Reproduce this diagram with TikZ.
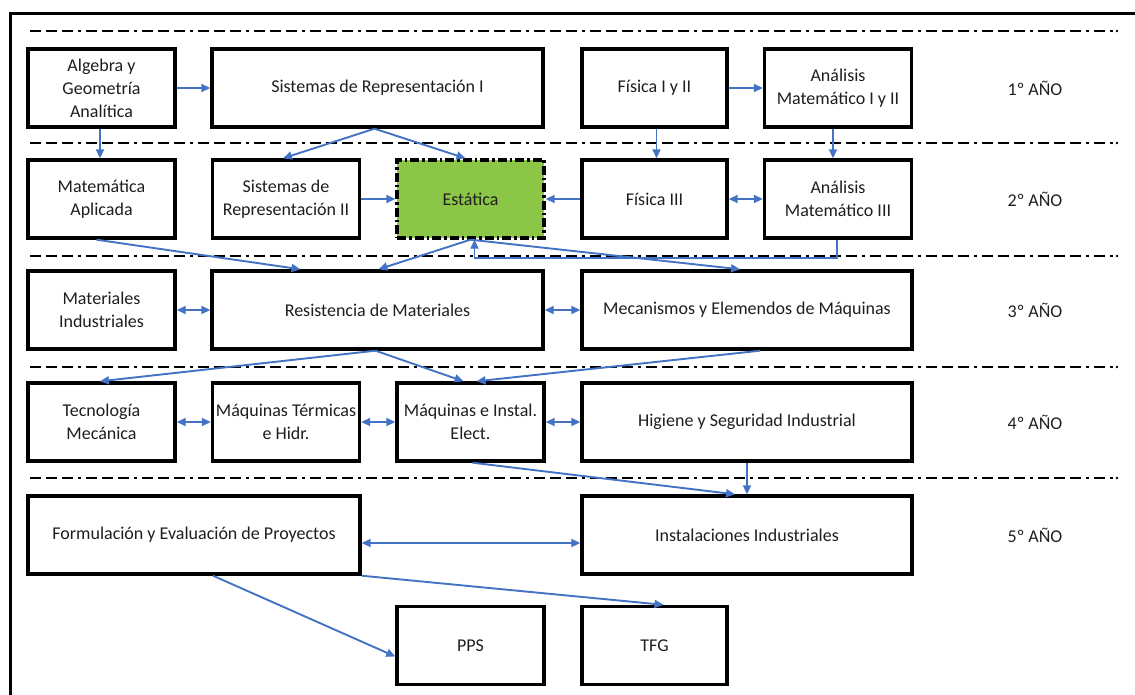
\documentclass[tikz,border=0pt]{standalone}
\usepackage{fontspec}
\setmainfont{Carlito}
\usetikzlibrary{arrows.meta,calc}
\definecolor{arr}{RGB}{68,114,196}
\definecolor{estgreen}{RGB}{140,198,70}
\definecolor{txt}{RGB}{30,30,30}
\begin{document}
\begin{tikzpicture}[x=1pt,y=-1pt,
  box/.style={draw=black,line width=3.4pt,fill=white,minimum height=78pt,align=center,inner sep=1pt,
    font=\fontsize{18}{23}\selectfont,text=txt},
  sbox/.style={box,minimum width=147pt},
  wbox/.style={box,minimum width=331pt},
  yearlbl/.style={font=\fontsize{18}{23}\selectfont,text=txt},
  conn/.style={draw=arr,line width=1.9pt,-{Triangle[length=9pt,width=8pt]}},
  dconn/.style={draw=arr,line width=1.9pt,{Triangle[length=9pt,width=8pt]}-{Triangle[length=9pt,width=8pt]}},
  sep/.style={draw=black,line width=1.3pt,dash pattern=on 11pt off 5pt on 11pt off 5pt on 11pt off 5pt on 3pt off 5pt},
]
\useasboundingbox (0,0) rectangle (1135,695);
% outer frame
\draw[line width=3pt] (10,700) -- (10,14) -- (1140,14);
% separators
\foreach \yy in {31,143,256,367,478}{
  \draw[sep] (30,\yy) -- (1113,\yy);
  \fill (1117,\yy) circle (1.3pt);
}
% row 1
\node[sbox] (alg) at (101.5,88) {Algebra y\\Geometría\\Analítica};
\node[wbox] (sr1) at (377.5,88) {Sistemas de Representación I};
\node[sbox,minimum width=145pt] (fis1) at (654.5,88) {Física I y II};
\node[sbox] (am1) at (838,88) {Análisis\\Matemático I y II};
% row 2
\node[sbox] (mat) at (101.5,199) {Matemática\\Aplicada};
\node[sbox] (sr2) at (286,199) {Sistemas de\\Representación II};
\node[sbox,fill=estgreen,dash pattern=on 9pt off 3pt on 2.5pt off 3pt] (est) at (470.5,199) {Estática};
\node[sbox,minimum width=145pt] (fis3) at (654.5,199) {Física III};
\node[sbox] (am3) at (838,199) {Análisis\\Matemático III};
% row 3
\node[sbox] (mi) at (101.5,310) {Materiales\\Industriales};
\node[wbox] (res) at (377.5,310) {Resistencia de Materiales};
\node[wbox,minimum width=330pt] (mec) at (747,310) {Mecanismos y Elemendos de Máquinas};
% row 4
\node[sbox] (tec) at (101.5,422) {Tecnología\\Mecánica};
\node[sbox] (mt) at (286,422) {Máquinas Térmicas\\e Hidr.};
\node[sbox] (mie) at (470.5,422) {Máquinas e Instal.\\Elect.};
\node[wbox,minimum width=330pt] (hig) at (747,422) {Higiene y Seguridad Industrial};
% row 5
\node[wbox,minimum width=332pt] (form) at (194,535) {Formulación y Evaluación de Proyectos};
\node[wbox,minimum width=330pt] (ins) at (747,535) {Instalaciones Industriales};
% row 6
\node[sbox] (pps) at (470.5,645.5) {PPS};
\node[sbox,minimum width=145pt] (tfg) at (654.5,645.5) {TFG};
% year labels
\node[yearlbl] (y1) at (1035,88) {1º AÑO};
\node[yearlbl] (y2) at (1035,199) {2º AÑO};
\node[yearlbl] (y3) at (1035,310) {3º AÑO};
\node[yearlbl] (y4) at (1035,422) {4º AÑO};
\node[yearlbl] (y5) at (1035,535) {5º AÑO};
% connectors
\draw[conn] (alg.east) -- (sr1.west);
\draw[conn] ([xshift=-1.5pt]alg.south) -- ([xshift=-1.5pt]mat.north);
\draw[conn] ([xshift=-3pt]sr1.south) -- ([xshift=-3pt]sr2.north);
\draw[conn] ([xshift=-3pt]sr1.south) -- ([xshift=-5pt]est.north);
\draw[conn] (fis1.east) -- (am1.west);
\draw[conn] ([xshift=2pt]fis1.south) -- ([xshift=2pt]fis3.north);
\draw[conn] ([xshift=-5pt]am1.south) -- ([xshift=-5pt]am3.north);
\draw[conn] (sr2.east) -- (est.west);
\draw[conn] (fis3.west) -- (est.east);
\draw[dconn] (fis3.east) -- (am3.west);
\draw[conn] ([xshift=-5pt]mat.south) -- ([xshift=-77pt]res.north);
\draw[conn] (est.south) -- ([xshift=1pt]res.north);
\draw[conn] (est.south) -- ([xshift=-7pt]mec.north);
\draw[conn] ([xshift=-1pt]am3.south) -- ++(0,18) -| ([xshift=4pt]est.south);
\draw[dconn] (mi.east) -- (res.west);
\draw[dconn] (res.east) -- (mec.west);
\draw[conn] ([xshift=-2pt]res.south) -- ([xshift=-1.5pt]tec.north);
\draw[conn] ([xshift=-2pt]res.south) -- ([xshift=-7pt]mie.north);
\draw[conn] ([xshift=13pt]mec.south) -- ([xshift=6pt]mie.north);
\draw[dconn] (tec.east) -- (mt.west);
\draw[dconn] (mt.east) -- (mie.west);
\draw[dconn] (mie.east) -- (hig.west);
\draw[conn] ([xshift=2pt]mie.south) -- ([xshift=-12pt]ins.north);
\draw[conn] (hig.south) -- (ins.north);
\draw[dconn] ([yshift=-8pt]form.east) -- ([yshift=-8pt]ins.west);
\draw[conn] (form.south east) -- ([xshift=9pt]tfg.north);
\draw[conn] ([xshift=19pt]form.south) -- ([yshift=-11pt]pps.west);
\end{tikzpicture}
\end{document}
